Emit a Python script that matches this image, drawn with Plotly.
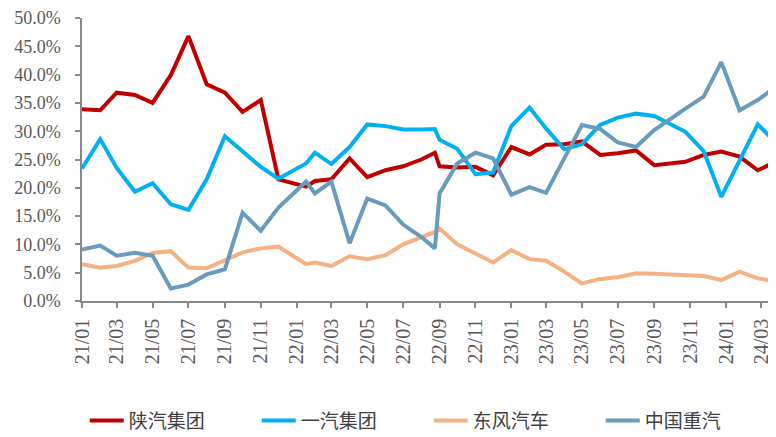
import plotly.graph_objects as go

# x dates (points on a date axis)
dates = [
    "2021-01-01", "2021-02-01", "2021-03-01", "2021-04-01", "2021-05-01", "2021-06-01",
    "2021-07-01", "2021-08-01", "2021-09-01", "2021-10-01", "2021-11-01", "2021-12-01",
    "2022-01-17", "2022-02-01", "2022-03-01", "2022-04-01", "2022-05-01", "2022-06-01",
    "2022-07-01", "2022-08-01", "2022-08-24", "2022-09-01", "2022-10-01", "2022-11-01",
    "2022-12-01",
    "2023-01-01", "2023-02-01", "2023-03-01", "2023-04-01", "2023-05-01", "2023-06-01",
    "2023-07-01", "2023-08-01", "2023-09-01",
    "2023-10-24", "2023-11-24", "2023-12-24", "2024-01-24", "2024-02-24", "2024-03-26",
]

shaanqi = [33.9, 33.7, 36.8, 36.4, 35.0, 39.9, 46.8, 38.3, 36.8, 33.4, 35.5, 21.5,
           20.2, 21.2, 21.5, 25.2, 21.9, 23.1, 23.8, 25.0, 26.2, 23.8, 23.6, 23.7, 22.2,
           27.2, 25.9, 27.6, 27.7, 28.2, 25.8, 26.1, 26.6, 24.0,
           24.6, 25.8, 26.4, 25.5, 23.1, 24.6]
faw = [23.4, 28.6, 23.5, 19.3, 20.8, 17.1, 16.1, 21.5, 29.1, 26.4, 23.7, 21.6,
       24.3, 26.2, 24.2, 27.2, 31.2, 30.9, 30.3, 30.3, 30.4, 28.5, 26.9, 22.4, 22.7,
       30.9, 34.2, 30.5, 26.8, 27.7, 31.1, 32.4, 33.1, 32.7,
       29.9, 26.5, 18.4, 24.8, 31.2, 28.0]
dongfeng = [6.5, 5.9, 6.2, 7.1, 8.5, 8.8, 5.9, 5.8, 7.2, 8.6, 9.3, 9.6,
            6.5, 6.8, 6.2, 7.9, 7.4, 8.1, 10.0, 11.2, 12.2, 12.8, 10.0, 8.4, 6.8,
            9.0, 7.4, 7.1, 5.2, 3.1, 3.9, 4.2, 4.9, 4.8,
            4.5, 4.4, 3.7, 5.2, 4.0, 3.5]
sinotruk = [9.1, 9.8, 8.0, 8.5, 8.0, 2.2, 2.9, 4.7, 5.6, 15.6, 12.4, 16.5,
            21.1, 19.0, 21.1, 10.2, 18.1, 16.9, 13.5, 11.3, 9.3, 19.0, 24.3, 26.2, 25.2,
            18.8, 20.1, 19.1, 25.2, 31.1, 30.4, 28.0, 27.2, 30.2,
            34.0, 36.1, 42.2, 33.7, 35.5, 37.9]

series_names = ["陕汽集团", "一汽集团", "东风汽车", "中国重汽"]
series_values = [shaanqi, faw, dongfeng, sinotruk]
colors = ["#C00000", "#00B0F0", "#F4B183", "#6A9BBC"]

fig = go.Figure()
for name, vals, col in zip(series_names, series_values, colors):
    fig.add_trace(go.Scatter(x=dates, y=vals, name=name, mode="lines",
                             line=dict(color=col, width=4)))

# page body has an 8px margin, so the figure is shifted to line up with the window
serif = "Liberation Serif, Times New Roman, serif"
fig.update_layout(
    width=768, height=437,
    margin=dict(l=74, r=0, t=10, b=144, autoexpand=False),
    paper_bgcolor="white", plot_bgcolor="white",
    showlegend=True,
    legend=dict(orientation="h", xref="container", yref="container",
                x=0.0999, y=0.056, xanchor="left", yanchor="middle",
                font=dict(family="Noto Sans CJK SC", size=19, color="#404040"),
                itemwidth=34, entrywidth=123, traceorder="normal"),
    xaxis=dict(type="date", range=["2021-01-01", "2024-03-26"],
               tick0="2021-01-01", dtick="M2", tickformat="%y/%m",
               tickangle=-90, tickfont=dict(family=serif, size=20, color="#595959"),
               automargin=False, ticklabelstandoff=3,
               showline=True, linecolor="#898989", linewidth=1.5,
               ticks="outside", ticklen=5, tickcolor="#898989", tickwidth=1.5,
               showgrid=False, zeroline=False),
    yaxis=dict(range=[0, 50], dtick=5, tickformat=".1f", ticksuffix="%",
               tickfont=dict(family=serif, size=18, color="#595959"),
               automargin=False, ticklabelstandoff=11,
               showline=True, linecolor="#898989", linewidth=1.5,
               ticks="outside", ticklen=5, tickcolor="#898989", tickwidth=1.5,
               showgrid=False, zeroline=False),
)

fig.write_html("out.html")
